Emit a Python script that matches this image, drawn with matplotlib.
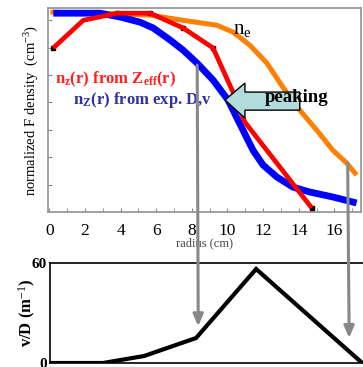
import matplotlib
matplotlib.use("Agg")
import matplotlib.pyplot as plt
from matplotlib.patches import Polygon

plt.rcParams['font.family'] = ['Liberation Serif', 'DejaVu Serif']
plt.rcParams['mathtext.fontset'] = 'custom'
plt.rcParams['mathtext.rm'] = 'Liberation Serif'
plt.rcParams['mathtext.it'] = 'Liberation Serif'
plt.rcParams['mathtext.bf'] = 'Liberation Serif:bold'

# density profiles (arbitrary normalized units) vs radius in cm
r_ne = [0.06, 5.66, 7.51, 9.41, 10.31, 11.26, 12.21, 13.11, 14.06, 15.01, 15.91, 16.69, 17.25]
n_e = [7.3, 7.19, 7.0, 6.82, 6.57, 6.09, 5.44, 4.56, 3.72, 2.99, 2.26, 1.79, 1.35]

r_dv = [0.22, 2.86, 3.98, 5.1, 5.83, 6.78, 7.51, 8.29, 9.19, 10.03, 10.87, 11.43,
        11.99, 12.77, 13.67, 14.62, 15.91, 17.25]
n_dv = [7.26, 7.26, 7.12, 6.93, 6.72, 6.28, 5.91, 5.44, 4.82, 4.09, 2.99, 2.26,
        1.72, 1.28, 0.91, 0.73, 0.55, 0.33]

r_zeff = [0.22, 1.9, 3.81, 5.66, 7.51, 9.19, 10.31, 10.98, 14.73]
n_zeff = [5.99, 7.0, 7.26, 7.26, 6.72, 5.99, 4.38, 3.28, 0.15]
# measured points on the Zeff-derived profile
r_pts = [0.22, 3.81, 5.66, 7.51, 9.19, 14.73]
n_pts = [5.99, 7.26, 7.26, 6.72, 5.99, 0.15]

# convection/diffusion ratio
r_vd = [0.0, 2.97, 5.27, 8.18, 11.54, 17.45]
v_over_d = [0.0, 0.0, 4.2, 15.0, 56.4, 0.3]

# where the grey guide arrows are dropped: radius, start density, end v/D
guide_r = [8.3, 16.75]
guide_n = [5.36, 1.79]
guide_vd = [22.0, 15.0]

fig = plt.figure(figsize=(3.63, 3.67), dpi=100)
ax1 = fig.add_axes([0.1336, 0.4223, 0.861, 0.5559])
ax2 = fig.add_axes([0.1377, 0.0109, 0.866, 0.2725])

ax1.plot(r_ne, n_e, color='#ff8000', lw=3.6, solid_capstyle='butt', zorder=2)
ax1.plot(r_dv, n_dv, color='#0000ff', lw=4.9, solid_capstyle='butt', zorder=3)
ax1.plot(r_pts, n_pts, 's', color='black', ms=3.2, zorder=3.5)
ax1.plot(r_zeff, n_zeff, color='#ff0000', lw=3.4, solid_capstyle='butt', zorder=4)

ax1.set_xlim(-0.05, 17.5)
ax1.set_ylim(0, 7.45)
ax1.set_xticks(range(0, 17, 2))
ax1.set_xticks(range(0, 18), minor=True)
ax1.set_yticks(range(1, 8))
ax1.set_yticklabels([])
ax1.tick_params(axis='x', which='both', direction='in', length=3, color='#888888',
                labelsize=12.5, pad=8)
ax1.tick_params(axis='y', direction='in', length=3, color='#888888')
for s in ax1.spines.values():
    s.set_color('#999999')
    s.set_linewidth(1.3)
ax1.set_xlabel('radius (cm)', fontsize=9, color='#444444', labelpad=-1)
ax1.set_ylabel('normalized F density  (cm$^{-3}$)', fontsize=10.5, labelpad=2)

ax1.text(0.3, 4.85, r'n$_\mathbf{z}$(r) from Z$_\mathbf{eff}$(r)', color='#ff2020',
         fontsize=12, fontweight='bold', va='center', ha='left', zorder=5)
ax1.text(1.3, 4.1, r'n$_\mathbf{Z}$(r) from exp. D,v', color='#3030a0',
         fontsize=12, fontweight='bold', va='center', ha='left', zorder=5)
ax1.text(10.3, 6.65, r'n$_{\mathrm{e}}$', fontsize=15, va='center', ha='left', zorder=5)

# left-pointing "peaking" arrow
arrow = Polygon([(9.86, 4.09), (10.98, 4.71), (10.98, 4.38), (14.06, 4.38),
                 (14.06, 3.72), (10.98, 3.72), (10.98, 3.43)],
                closed=True, facecolor='#b2dcdc', edgecolor='black', lw=1.0, zorder=6)
ax1.add_patch(arrow)
ax1.text(12.1, 4.18, 'peaking', fontsize=13.5, fontweight='bold', va='center',
         ha='left', zorder=7)

ax2.plot(r_vd, v_over_d, color='black', lw=3.0, solid_joinstyle='miter', zorder=3)
ax2.set_xlim(0, 17.6)
ax2.set_ylim(0, 60)
ax2.set_xticks([])
ax2.set_yticks([0, 60])
ax2.set_yticklabels(['0', '60'], fontweight='bold', fontsize=11)
ax2.tick_params(axis='y', length=0, pad=2)
for s in ax2.spines.values():
    s.set_linewidth(1.2)
ax2.set_ylabel('v/D (m$^{-1}$)', fontsize=12, fontweight='bold', labelpad=-4)

# grey guides from the profiles down to the v/D curve
for r, n0, vd in zip(guide_r, guide_n, guide_vd):
    fig.add_artist(plt.Annotation(
        '', xy=(r, vd), xycoords=ax2.transData,
        xytext=(r, n0), textcoords=ax1.transData,
        arrowprops=dict(arrowstyle='-|>,head_length=0.7,head_width=0.3',
                        color='#888888', lw=2.2, shrinkA=0, shrinkB=0),
        zorder=10))

fig.savefig('out.png', dpi=100)
